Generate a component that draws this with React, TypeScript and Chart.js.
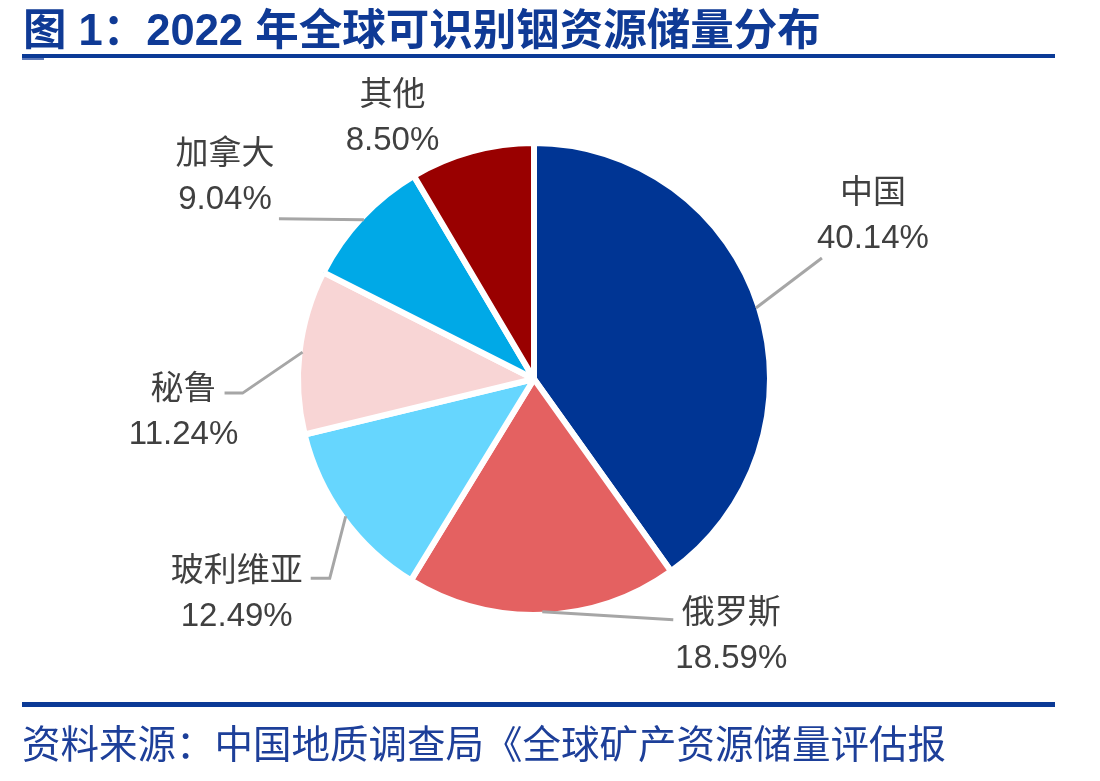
import React, { useEffect, useRef } from "react";
import { Chart, registerables } from "chart.js";

Chart.register(...registerables);

// Share of identified global indium reserves, 2022 (%)
const regions = ["中国", "俄罗斯", "玻利维亚", "秘鲁", "加拿大", "其他"];
const shares = [40.14, 18.59, 12.49, 11.24, 9.04, 8.5];
const sliceColors = ["#003594", "#E46161", "#66D6FE", "#F8D5D5", "#00A9E7", "#990000"];

// Leader-line bend points and label block centres, as offsets from each slice's outer-edge midpoint
const leaderPaths: [number, number][][] = [
  [[66, -50]],
  [[131, 8]],
  [[-16, 62], [-35, 62]],
  [[-60, 41], [-78, 41]],
  [[-85, -1]],
  [],
];
const labelOffsets: [number, number][] = [
  [117, -92],
  [189, 25],
  [-109, 78],
  [-119, 60],
  [-139, -42],
  [-80, -36],
];

const TITLE = "图 1：2022 年全球可识别铟资源储量分布";
const SOURCE = "资料来源：中国地质调查局《全球矿产资源储量评估报";

const BORDER = 6;
const FONT = '"Liberation Sans", Arial, "Noto Sans CJK SC", sans-serif';

const sliceLabels = {
  id: "sliceLabels",
  afterDatasetsDraw(chart: Chart) {
    const ctx = chart.ctx;
    const meta = chart.getDatasetMeta(0);
    ctx.save();
    meta.data.forEach((arc: any, i: number) => {
      const { x, y, startAngle, endAngle, outerRadius } = arc.getProps(
        ["x", "y", "startAngle", "endAngle", "outerRadius"],
        true
      );
      const mid = (startAngle + endAngle) / 2;
      const r = outerRadius - BORDER / 2;
      const ax = x + Math.cos(mid) * r;
      const ay = y + Math.sin(mid) * r;

      const path = leaderPaths[i];
      if (path.length) {
        ctx.beginPath();
        ctx.moveTo(ax, ay);
        path.forEach(([dx, dy]) => ctx.lineTo(ax + dx, ay + dy));
        ctx.strokeStyle = "#A6A6A6";
        ctx.lineWidth = 3;
        ctx.lineJoin = "miter";
        ctx.stroke();
      }

      const [ox, oy] = labelOffsets[i];
      const cx = ax + ox;
      const cy = ay + oy;
      ctx.fillStyle = "#404040";
      ctx.textAlign = "center";
      ctx.textBaseline = "middle";
      ctx.font = `33px ${FONT}`;
      ctx.fillText(String(chart.data.labels![i]), cx, cy - 22.5);
      const v = chart.data.datasets[0].data[i] as number;
      ctx.fillText(`${v.toFixed(2)}%`, cx, cy + 22.5);
    });
    ctx.restore();
  },
};

function PieChart() {
  const canvasRef = useRef<HTMLCanvasElement | null>(null);

  useEffect(() => {
    const canvas = canvasRef.current;
    if (!canvas) return;
    const chart = new Chart(canvas, {
      type: "pie",
      data: {
        labels: regions,
        datasets: [
          {
            data: shares,
            backgroundColor: sliceColors,
            borderColor: "#FFFFFF",
            borderWidth: BORDER,
          },
        ],
      },
      options: {
        responsive: false,
        devicePixelRatio: 1,
        animation: false,
        radius: 236,
        layout: { padding: { left: 284, right: 316, top: 129, bottom: 152 } },
        plugins: {
          legend: { display: false },
          tooltip: { enabled: false },
        },
      },
      plugins: [sliceLabels],
    });
    return () => chart.destroy();
  }, []);

  return (
    <canvas
      ref={canvasRef}
      width={1100}
      height={781}
      style={{ position: "absolute", left: 0, top: 0, width: 1100, height: 781 }}
    />
  );
}

export default function App() {
  return (
    <div
      style={{
        position: "absolute",
        left: 0,
        top: 0,
        width: 1100,
        height: 781,
        background: "#FFFFFF",
        overflow: "hidden",
      }}
    >
      <PieChart />
      <div
        style={{
          position: "absolute",
          left: 23,
          top: 9,
          fontFamily: FONT,
          fontWeight: 700,
          fontSize: 43.5,
          lineHeight: "42px",
          color: "#0F3A95",
          whiteSpace: "nowrap",
        }}
      >
        {TITLE}
      </div>
      <div
        style={{
          position: "absolute",
          left: 22,
          top: 54,
          width: 1033,
          height: 4,
          background: "#0B3A96",
        }}
      />
      <div
        style={{
          position: "absolute",
          left: 22,
          top: 58,
          width: 22,
          height: 2,
          background: "#5C78B8",
        }}
      />
      <div
        style={{
          position: "absolute",
          left: 22,
          top: 702,
          width: 1033,
          height: 5,
          background: "#0B3A96",
        }}
      />
      <div
        style={{
          position: "absolute",
          left: 22,
          top: 726,
          fontFamily: FONT,
          fontWeight: 400,
          fontSize: 38.5,
          lineHeight: "38px",
          color: "#1D3F99",
          whiteSpace: "nowrap",
        }}
      >
        {SOURCE}
      </div>
    </div>
  );
}
